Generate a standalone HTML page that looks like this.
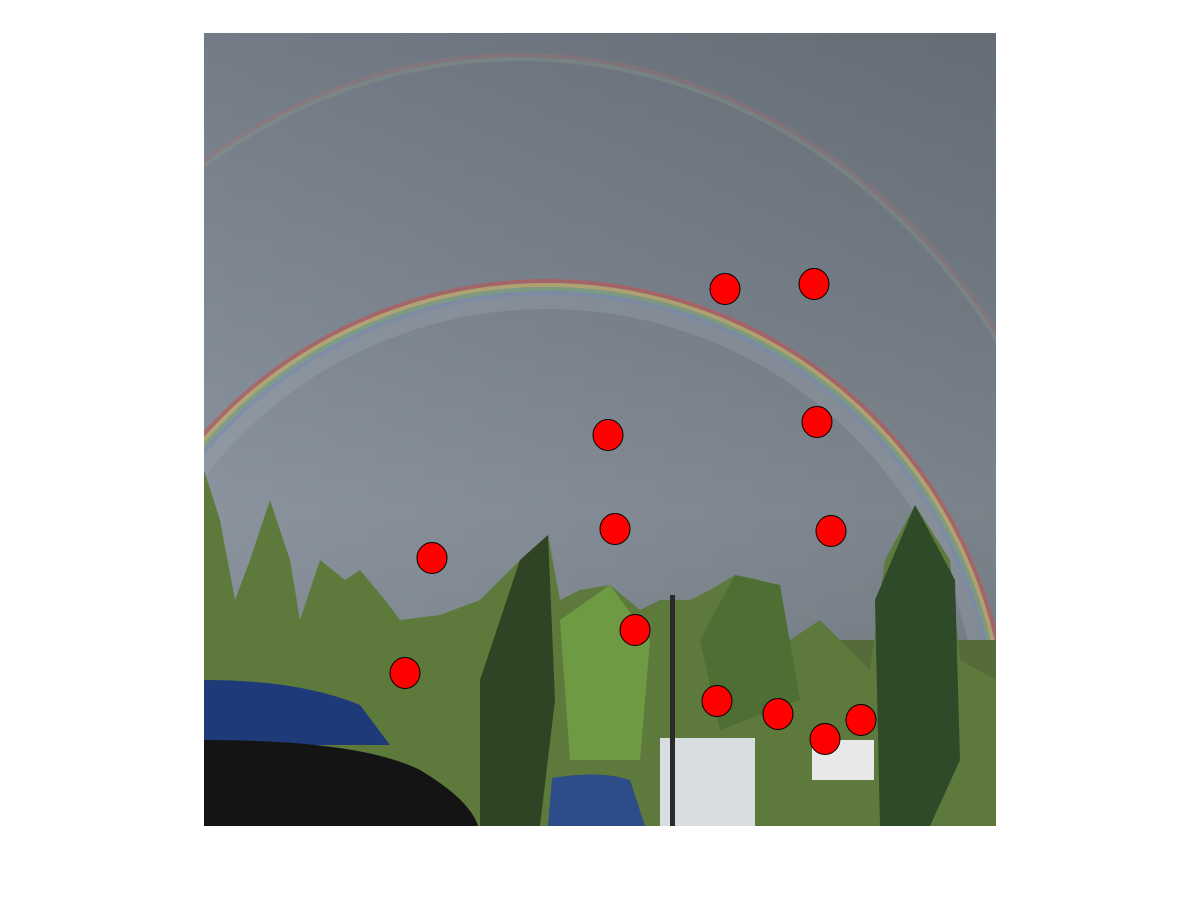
<!DOCTYPE html>
<html><head><meta charset="utf-8"><style>
html,body{margin:0;padding:0;background:#fff;width:1201px;height:900px;overflow:hidden;font-family:"Liberation Sans",sans-serif}
svg{display:block}
</style></head><body>
<svg id="chart" width="1201" height="900">
<defs>
<linearGradient id="sky" x1="0" y1="0" x2="0" y2="1">
<stop offset="0" stop-color="#737b86"/><stop offset="0.35" stop-color="#7f8893"/><stop offset="0.6" stop-color="#8a939d"/><stop offset="1" stop-color="#7d868f"/>
</linearGradient>
<linearGradient id="skyh" x1="0" y1="0" x2="1" y2="0">
<stop offset="0" stop-color="#000" stop-opacity="0"/><stop offset="1" stop-color="#000" stop-opacity="0.12"/>
</linearGradient>
<clipPath id="imgclip"><rect x="204" y="33" width="792" height="793"/></clipPath>
</defs>
<g clip-path="url(#imgclip)">
<rect x="204" y="33" width="792" height="793" fill="url(#sky)"/>
<rect x="204" y="33" width="792" height="793" fill="url(#skyh)"/>
<g fill="none" opacity="0.7">
<circle cx="547" cy="742" r="461" stroke="#b85a5a" stroke-width="4"/>
<circle cx="547" cy="742" r="457" stroke="#c7b067" stroke-width="4"/>
<circle cx="547" cy="742" r="453" stroke="#7fa47f" stroke-width="4"/>
<circle cx="547" cy="742" r="449" stroke="#7f8fb0" stroke-width="4"/>
<circle cx="547" cy="742" r="440" stroke="#a6afb8" stroke-width="14" opacity="0.4"/>
</g>
<g fill="none" opacity="0.3">
<ellipse cx="520" cy="760" rx="600" ry="705" stroke="#b07070" stroke-width="4"/>
<ellipse cx="520" cy="760" rx="596" ry="701" stroke="#8fa08a" stroke-width="4"/>
</g>
<g>
<rect x="204" y="640" width="792" height="186" fill="#556b3a"/>
<path d="M204 470 L220 520 L235 600 L250 560 L270 500 L290 560 L300 620 L320 560 L345 580 L360 570 L385 600 L400 620 L440 615 L480 600 L520 560 L548 535 L560 600 L580 590 L610 585 L640 610 L660 600 L690 600 L710 590 L735 575 L760 580 L790 640 L820 620 L840 640 L870 670 L885 560 L915 505 L950 560 L960 660 L996 680 L996 826 L204 826 Z" fill="#5d7a3c"/>
<path d="M480 680 L520 560 L548 535 L555 700 L540 826 L480 826 Z" fill="#2f4424"/>
<path d="M875 600 L915 505 L955 580 L960 760 L930 826 L880 826 Z" fill="#2f4a28"/>
<path d="M560 620 L610 585 L650 640 L640 760 L570 760 Z" fill="#6f9a44"/>
<path d="M700 640 L735 575 L780 585 L800 700 L720 730 Z" fill="#4f6e34"/>
</g>
<g>
<rect x="660" y="738" width="95" height="88" fill="#d8dde2"/>
<rect x="812" y="740" width="62" height="40" fill="#e8e8ea"/>
<rect x="670" y="595" width="5" height="231" fill="#2a2a2a"/>
<path d="M548 826 L552 778 Q600 770 630 780 L645 826 Z" fill="#2c4c8a"/>
<path d="M204 680 Q300 680 360 705 L390 745 L204 745 Z" fill="#1f3a78"/>
<path d="M204 740 Q360 740 420 770 Q470 800 478 826 L204 826 Z" fill="#141414"/>
</g>
</g>
<g id="points"></g>
</svg>
<script>
const xs=[521,610,404,613,411,627,228,431,201,513,574,657,621];
const ys=[256,251,402,389,496,498,525,597,640,668,681,687,706];
const x0=204,y0=33;
function sx(v){return x0+v;}
function sy(v){return y0+v;}
const pg=document.getElementById('points');
for(let i=0;i<xs.length;i++){
 const c=document.createElementNS('http://www.w3.org/2000/svg','ellipse');
 c.setAttribute('cx',sx(xs[i]));
 c.setAttribute('cy',sy(ys[i]));
 c.setAttribute('rx','15');
 c.setAttribute('ry','15.5');
 c.setAttribute('fill','#ff0000');
 c.setAttribute('stroke','#000');
 c.setAttribute('stroke-width','1');
 
 
 pg.appendChild(c);
}
</script>
</body></html>
